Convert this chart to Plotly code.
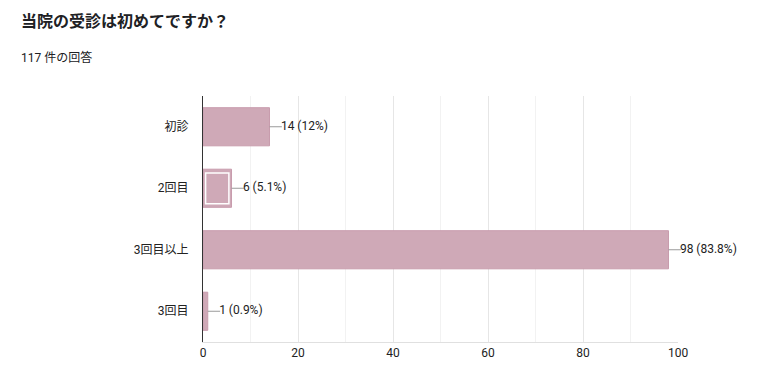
import plotly.graph_objects as go

categories = ["初診", "2回目", "3回目以上", "3回目"]
values = [14, 6, 98, 1]
labels = ["14 (12%)", "6 (5.1%)", "98 (83.8%)", "1 (0.9%)"]
highlight = "2回目"

title = "当院の受診は初めてですか？"
subtitle = "117 件の回答"

BAR = "#cfa9b7"
JP = "Roboto, 'Noto Sans CJK JP', sans-serif"

W, H = 762, 387
L, R, T, B = 203, 10, 96, 45
PLOT_W = 475  # pixel width of the 0..100 value axis
XMAX = 100
pw = W - L - R
dom_end = PLOT_W / pw
x2max = XMAX * pw / PLOT_W

fig = go.Figure()
fig.add_trace(go.Bar(
    y=categories, x=values, orientation="h", width=0.62,
    marker=dict(color=BAR, line=dict(color="#c89cad", width=1)),
    hoverinfo="skip", showlegend=False,
))
# highlighted inner rectangle (selected bar)
hv = values[categories.index(highlight)]
inset = 0.55
fig.add_trace(go.Bar(
    y=[highlight], x=[hv - 2 * inset], base=[inset], orientation="h", width=0.5,
    marker=dict(color=BAR, line=dict(color="white", width=1.5)),
    hoverinfo="skip", showlegend=False,
))
# leader lines and value labels on a wider companion axis (same scale)
for c, v in zip(categories, values):
    fig.add_trace(go.Scatter(
        x=[v, v + 2.6], y=[c, c], mode="lines", xaxis="x2", yaxis="y",
        line=dict(color="#9a9a9a", width=1), hoverinfo="skip", showlegend=False,
    ))
fig.add_trace(go.Scatter(
    x=[v + 2.4 for v in values], y=categories, mode="text", text=labels,
    xaxis="x2", yaxis="y",
    textposition="middle right", textfont=dict(family=JP, size=12, color="#222222"),
    cliponaxis=False, hoverinfo="skip", showlegend=False,
))

fig.update_layout(
    width=W, height=H, barmode="overlay",
    margin=dict(l=L, r=R, t=T, b=B, autoexpand=False),
    paper_bgcolor="white", plot_bgcolor="rgba(0,0,0,0)",
    font=dict(family=JP, color="#222222"),
    xaxis=dict(
        domain=[0, dom_end], anchor="y", automargin=False,
        range=[0, XMAX], tickvals=[0, 20, 40, 60, 80, 100], ticks="",
        showgrid=True, gridcolor="#e6e6e6", gridwidth=1,
        minor=dict(dtick=10, showgrid=True, gridcolor="#f2f2f2", gridwidth=1),
        zeroline=False, showline=True, linecolor="#e0e0e0", mirror=False,
        tickfont=dict(size=12, color="#222222", family=JP),
    ),
    xaxis2=dict(
        domain=[0, 1], anchor="y", range=[0, x2max], automargin=False,
        visible=False, showgrid=False, zeroline=False,
    ),
    yaxis=dict(
        categoryorder="array", categoryarray=categories[::-1], automargin=False,
        showline=True, linecolor="#333333", linewidth=1, ticks="",
        ticklabelstandoff=11, tickfont=dict(size=12, color="#222222", family=JP),
        showgrid=False, zeroline=False,
    ),
    annotations=[
        dict(text=f"<b>{title}</b>", x=19, y=20, xref="paper", yref="paper",
             xanchor="left", yanchor="middle", showarrow=False,
             font=dict(size=16, color="#202124", family="'Noto Sans CJK JP', sans-serif")),
        dict(text=subtitle, x=19, y=57, xref="paper", yref="paper",
             xanchor="left", yanchor="middle", showarrow=False,
             font=dict(size=12, color="#202124", family=JP)),
    ],
)
ph = H - T - B
for a in fig.layout.annotations:
    a.x = (a.x - L) / pw
    a.y = 1 + (T - a.y) / ph

fig.write_html("out.html")
